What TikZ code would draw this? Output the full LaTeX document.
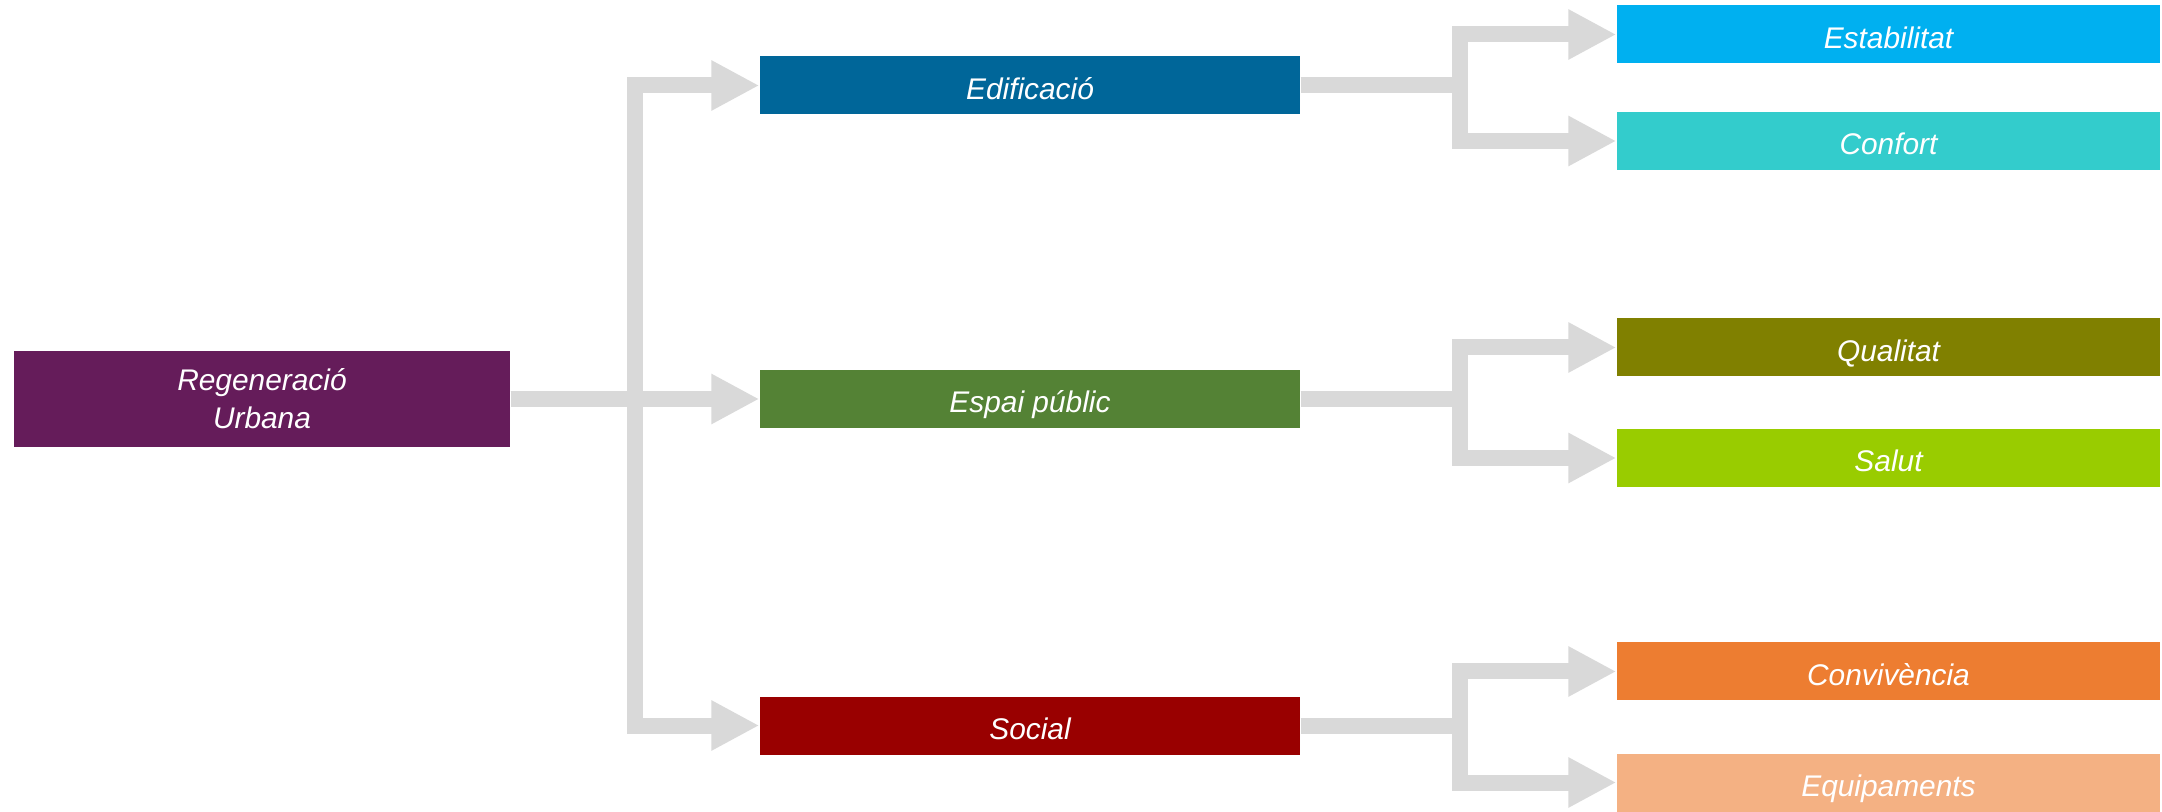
\documentclass[tikz,border=0pt]{standalone}
\usepackage{fontspec}
\newfontfamily\boxfont{Liberation Sans}
\usetikzlibrary{arrows.meta,positioning}
\definecolor{cRoot}{HTML}{651C5A}
\definecolor{cEdif}{HTML}{006699}
\definecolor{cEspai}{HTML}{548235}
\definecolor{cSocial}{HTML}{990000}
\definecolor{cEstab}{HTML}{00B0F0}
\definecolor{cConfort}{HTML}{33CCCC}
\definecolor{cQual}{HTML}{808000}
\definecolor{cSalut}{HTML}{99CC00}
\definecolor{cConviv}{HTML}{ED7D31}
\definecolor{cEquip}{HTML}{F4B183}
\definecolor{cLine}{HTML}{D9D9D9}
\tikzset{
 box/.style={inner sep=0pt,text=white,align=center,
  font=\boxfont\itshape\fontsize{8.5}{10.8}\selectfont},
 lvlA/.style={box,minimum width=5.4cm,minimum height=0.58cm,text height=7.9pt,text depth=0pt},
 lvlB/.style={box,minimum width=5.43cm,minimum height=0.58cm,text height=7.9pt,text depth=0pt},
 conn/.style={draw=cLine,line width=0.16cm,line join=miter,
  -{Triangle[length=0.48cm,width=0.47cm]}}
}
\begin{document}
\begin{tikzpicture}
 \useasboundingbox (0,0) rectangle (21.62,8.11);
 % root
 \node (root) at (2.62,4.12) [box,fill=cRoot,minimum width=4.96cm,minimum height=0.96cm] {Regeneració\\Urbana};

 % first level
 \node (edif) at (10.30,7.255) [lvlA,fill=cEdif] {Edificació};
 \node (espai) at (10.30,4.12) [lvlA,fill=cEspai] {Espai públic};
 \node (social) at (10.30,0.855) [lvlA,fill=cSocial] {Social};

 % second level
 \node (estab) at (18.885,7.765) [lvlB,fill=cEstab] {Estabilitat};
 \node (confort) at (18.885,6.70) [lvlB,fill=cConfort] {Confort};
 \node (qual) at (18.885,4.635) [lvlB,fill=cQual] {Qualitat};
 \node (salut) at (18.885,3.53) [lvlB,fill=cSalut] {Salut};
 \node (conviv) at (18.885,1.395) [lvlB,fill=cConviv] {Convivència};
 \node (equip) at (18.885,0.285) [lvlB,fill=cEquip] {Equipaments};

 % connectors
 \foreach \c in {edif,espai,social} {
  \draw[conn] (root.east) -- ++(1.245,0) |- (\c.west);
 };
 \foreach \p/\c in {edif/estab,edif/confort,espai/qual,espai/salut,social/conviv,social/equip} {
  \draw[conn] (\p.east) -- ++(1.59,0) |- (\c.west);
 };
\end{tikzpicture}
\end{document}
